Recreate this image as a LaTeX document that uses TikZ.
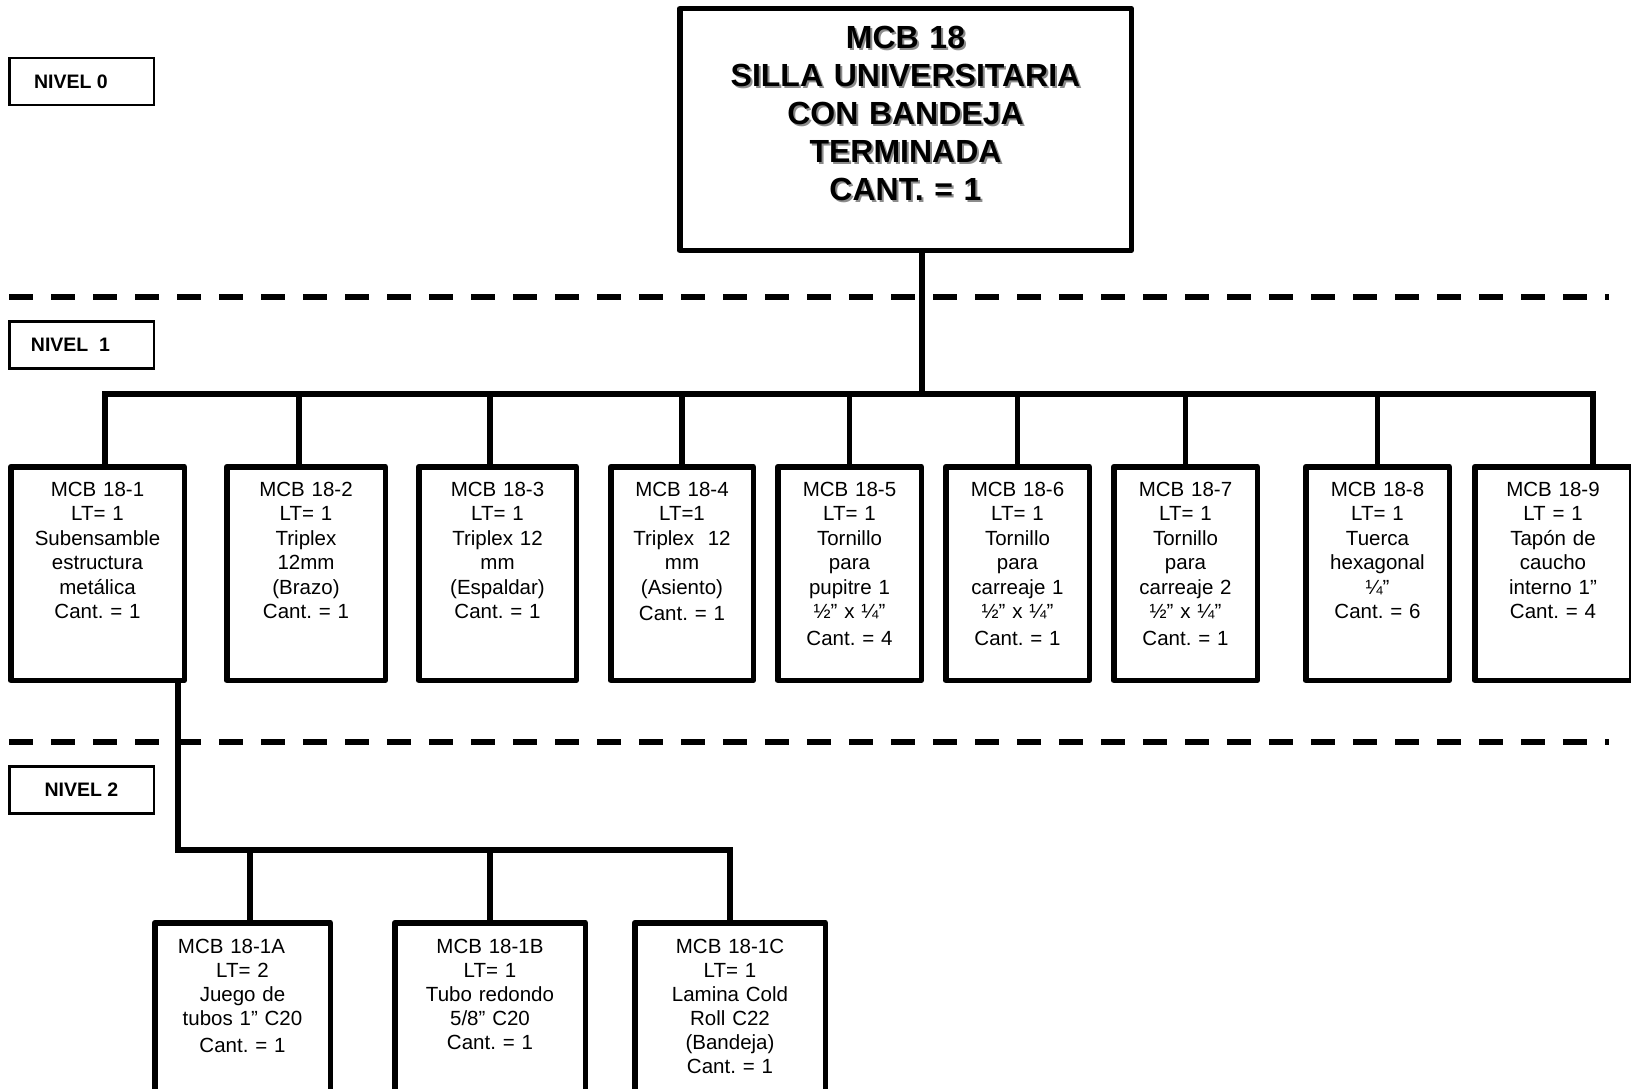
\documentclass[tikz,border=0pt]{standalone}
\usepackage{fontspec}
\setmainfont{Liberation Sans}
\usepackage{tikz}
\usetikzlibrary{positioning}
\frenchspacing

% gray drop shadow behind the title text
\newcommand{\shd}[1]{\makebox[0pt][l]{\hspace{2pt}\raisebox{-2pt}{\textcolor{black!45}{#1}}}#1}

\begin{document}
\begin{tikzpicture}[
    x=1pt, y=-1pt,
    main/.style={draw, line width=5.5pt, line join=round, inner sep=0pt, text width=451.5pt, align=center,
        font=\fontsize{32}{38}\selectfont\bfseries, text height=40.25pt, text depth=201.25pt},
    part/.style={draw, line width=5.5pt, line join=round, inner sep=0pt, text width=#1, align=center,
        font=\fontsize{20.5}{24.5}\selectfont, text height=29.25pt, text depth=184.25pt},
    sub/.style={part=#1, font=\fontsize{20.5}{24}\selectfont, text height=30.25pt, text depth=180pt},
    lvl/.style={draw, line width=2.5pt, minimum width=144.5pt, minimum height=47pt, inner sep=0pt,
        font=\fontsize{19.5}{23}\selectfont\bfseries},
    link/.style={line width=5.5pt, line cap=rect},
    sep/.style={line width=5.5pt, dash pattern=on 24pt off 18pt}
]
\path[use as bounding box, fill=white] (0,0) rectangle (1631,1089);

% level labels and separators
\node[lvl, anchor=north west] (n0) at (8,57) {NIVEL 0\hspace*{21pt}};
\node[lvl, anchor=north west] (n1) at (8,320) {NIVEL\ \ 1\hspace*{22pt}};
\node[lvl, anchor=north west] (n2) at (8,765) {NIVEL 2};
\draw[sep] (9,297) -- (1609,297);
\draw[sep] (9,742) -- (1609,742);

% level 0
\node[main, anchor=north] (top) at (905.5,6) {\shd{MCB 18}\\ \shd{SILLA UNIVERSITARIA}\\ \shd{CON BANDEJA}\\ \shd{TERMINADA}\\ \shd{CANT. = 1}};

% level 1
\node[part=173.5pt, anchor=north west] (l1a) at (8,464) {MCB 18-1\\ LT= 1\\ Subensamble\\ estructura\\ metálica\\ Cant. = 1};
\node[part=158.5pt, right=37pt of l1a] (l1b) {MCB 18-2\\ LT= 1\\ Triplex\\ 12mm\\ (Brazo)\\ Cant. = 1};
\node[part=157.5pt, right=28pt of l1b] (l1c) {MCB 18-3\\ LT= 1\\ Triplex 12\\ mm\\ (Espaldar)\\ Cant. = 1};
\node[part=142.5pt, right=29pt of l1c] (l1d) {MCB 18-4\\ LT=1\\ Triplex\ \ 12\\ mm\\ (Asiento)\\[2pt] Cant. = 1};
\node[part=143.5pt, right=19pt of l1d] (l1e) {MCB 18-5\\ LT= 1\\ Tornillo\\ para\\ pupitre 1\\ ½” x ¼”\\[2pt] Cant. = 4};
\node[part=143.5pt, right=19pt of l1e] (l1f) {MCB 18-6\\ LT= 1\\ Tornillo\\ para\\ carreaje 1\\ ½” x ¼”\\[2pt] Cant. = 1};
\node[part=143.5pt, right=19pt of l1f] (l1g) {MCB 18-7\\ LT= 1\\ Tornillo\\ para\\ carreaje 2\\ ½” x ¼”\\[2pt] Cant. = 1};
\node[part=143.5pt, right=43pt of l1g] (l1h) {MCB 18-8\\ LT= 1\\ Tuerca\\ hexagonal\\ ¼”\\ Cant. = 6};
\node[part=156.5pt, right=20pt of l1h] (l1i) {MCB 18-9\\ LT = 1\\ Tapón de\\ caucho\\ interno 1”\\ Cant. = 4};

% level 2
\node[sub=175.5pt, anchor=north west] (l2a) at (152,920) {\mbox{MCB 18-1A\hspace{22pt}}\\ LT= 2\\ Juego de\\ tubos 1” C20\\[3pt] Cant. = 1};
\node[sub=190.5pt, right=59pt of l2a] (l2b) {MCB 18-1B\\ LT= 1\\ Tubo redondo\\ 5/8” C20\\ Cant. = 1};
\node[sub=190.5pt, right=44pt of l2b] (l2c) {MCB 18-1C\\ LT= 1\\ Lamina Cold\\ Roll C22\\ (Bandeja)\\ Cant. = 1};

% connectors
\coordinate (hub0) at (922,394);
\coordinate (hub1) at (178,850);
\draw[link] (top.south -| hub0) -- (hub0);
\draw[link] ([xshift=7.5pt]l1a.north) |- (hub0) -| ([xshift=40pt]l1i.north);
\foreach \n/\dx in {l1b/-7, l1c/-7.5, l1d/0, l1e/0, l1f/0, l1g/0, l1h/0}
    \draw[link] ([xshift=\dx pt]\n.north) -- ([xshift=\dx pt]\n.north |- hub0);
\draw[link] (l1a.south -| hub1) -- (hub1) -| (l2c.north);
\draw[link] ([xshift=7.5pt]l2a.north) -- ([xshift=7.5pt]l2a.north |- hub1);
\draw[link] (l2b.north) -- (l2b.north |- hub1);

\end{tikzpicture}
\end{document}
